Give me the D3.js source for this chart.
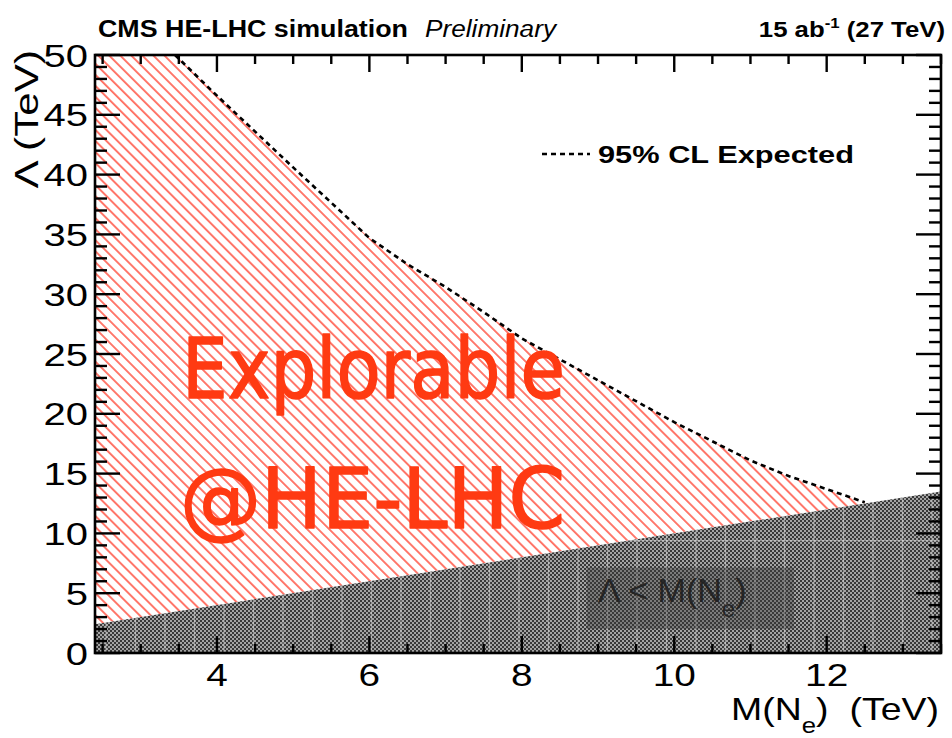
<!DOCTYPE html>
<html>
<head>
<meta charset="utf-8">
<script src="https://cdn.jsdelivr.net/npm/d3@7"></script>
<style>
  body { margin: 0; background: #fff; }
  svg { display: block; }
</style>
</head>
<body>
<svg id="chart" width="952" height="738"></svg>
<script>
// Expected 95% CL limit on the contact-interaction scale vs heavy neutrino mass
const massTeV   = [3.45, 4.0, 5.0, 6.0, 6.5, 7.0, 7.5, 8.0, 9.0, 10.0, 11.0, 11.5, 12.0, 12.5];
const lambdaTeV = [50.0, 46.6, 40.6, 34.7, 32.5, 30.6, 28.5, 26.3, 22.8, 19.3, 16.1, 14.8, 13.7, 12.6];

const xDomain = [2.4, 13.5];
const yDomain = [0, 50];
const xMajorTicks = [4, 6, 8, 10, 12];
const yMajorTicks = [0, 5, 10, 15, 20, 25, 30, 35, 40, 45, 50];

const headerLeft = "CMS HE-LHC simulation";
const headerTag = "Preliminary";
const legendLabel = "95% CL Expected";

const W = 952, H = 738;
const frame = { l: 95, r: 941, t: 55, b: 653 };

const x = d3.scaleLinear().domain(xDomain).range([frame.l, frame.r]);
const y = d3.scaleLinear().domain(yDomain).range([frame.b, frame.t]);

const svg = d3.select("#chart");
const FONT = "'Liberation Sans', Arial, Helvetica, sans-serif";
const WIDE = 1.25; // horizontal stretch of the axis lettering

const defs = svg.append("defs");

// red diagonal hatching
const hatch = defs.append("pattern")
  .attr("id", "hatch")
  .attr("patternUnits", "userSpaceOnUse")
  .attr("width", 10).attr("height", 7.8)
  .attr("patternTransform", "rotate(45)");
hatch.append("line")
  .attr("x1", 0).attr("x2", 10).attr("y1", 1).attr("y2", 1)
  .attr("stroke", "#ff1400").attr("stroke-width", 1.15);

// fine checker fill for the excluded Λ < M region
const checker = defs.append("pattern")
  .attr("id", "checker")
  .attr("patternUnits", "userSpaceOnUse")
  .attr("width", 4).attr("height", 4);
checker.append("rect").attr("width", 4).attr("height", 4).attr("fill", "#a4a4a4");
checker.append("rect").attr("x", 0).attr("y", 0).attr("width", 2).attr("height", 2).attr("fill", "#383838");
checker.append("rect").attr("x", 2).attr("y", 2).attr("width", 2).attr("height", 2).attr("fill", "#383838");

defs.append("clipPath").attr("id", "plotClip")
  .append("rect")
  .attr("x", frame.l).attr("y", frame.t)
  .attr("width", frame.r - frame.l).attr("height", frame.b - frame.t);

const plot = svg.append("g").attr("clip-path", "url(#plotClip)");
const line = d3.line().x(d => x(d[0])).y(d => y(d[1]));

// explorable region: between the expected limit and the Λ = M line
const curve = massTeV.map((m, i) => [m, lambdaTeV[i]]);
const last = curve[curve.length - 1];
const hatchPoly = [[xDomain[0], yDomain[1]], ...curve, [last[0], last[0]], [xDomain[0], xDomain[0]]];
plot.append("path").attr("d", line(hatchPoly) + "Z").attr("fill", "url(#hatch)");

// Λ < M region
const grayPoly = [[xDomain[0], 0], [xDomain[0], xDomain[0]], [xDomain[1], xDomain[1]], [xDomain[1], 0]];
const grayPath = line(grayPoly) + "Z";
defs.append("clipPath").attr("id", "grayClip").append("path").attr("d", grayPath);
plot.append("path").attr("d", grayPath).attr("fill", "url(#checker)");

// faint grid streaks in the checker fill
const streaks = plot.append("g").attr("clip-path", "url(#grayClip)")
  .attr("stroke", "#dcdcdc").attr("stroke-opacity", 0.5).attr("stroke-width", 1.3);
d3.range(frame.l + 11, frame.r, 29.5).forEach(px => {
  streaks.append("line").attr("x1", px).attr("x2", px).attr("y1", frame.t).attr("y2", frame.b);
});
streaks.append("line")
  .attr("x1", frame.l).attr("x2", frame.r)
  .attr("y1", y(9.4)).attr("y2", y(9.4));

// label box inside the Λ < M region
const boxG = plot.append("g");
boxG.append("rect")
  .attr("x", x(8.85)).attr("y", y(7.15))
  .attr("width", x(11.57) - x(8.85)).attr("height", y(2.0) - y(7.15))
  .attr("fill", "#3a3a3a").attr("fill-opacity", 0.38);
const boxText = boxG.append("text")
  .attr("x", x(9.0)).attr("y", y(4.3))
  .attr("font-family", FONT).attr("font-size", 34)
  .attr("fill", "#1e1e1e").attr("fill-opacity", 0.9);
boxText.append("tspan").text("Λ < M(N");
boxText.append("tspan").attr("dy", 15).attr("font-size", 24).text("e");
boxText.append("tspan").attr("dy", -15).text(")");

// expected limit curve
plot.append("path")
  .datum(curve)
  .attr("d", line)
  .attr("fill", "none")
  .attr("stroke", "#000")
  .attr("stroke-width", 2.6)
  .attr("stroke-dasharray", "5,4");

// handwritten-style annotation
const note = svg.append("g")
  .attr("font-family", "'DejaVu Sans', sans-serif")
  .attr("fill", "#ff3a12")
  .attr("stroke", "#ff3a12").attr("stroke-width", 1.6).attr("stroke-linejoin", "round");
note.append("text")
  .attr("x", 182).attr("y", 398)
  .attr("font-size", 84)
  .attr("textLength", 383).attr("lengthAdjust", "spacingAndGlyphs")
  .text("Explorable");
note.append("text")
  .attr("x", 180).attr("y", 528)
  .attr("font-size", 84)
  .attr("textLength", 385).attr("lengthAdjust", "spacingAndGlyphs")
  .text("@HE-LHC");

// frame and ticks
const axes = svg.append("g").attr("stroke", "#000").attr("stroke-width", 2.4);
d3.range(2.5, xDomain[1] + 1e-9, 0.5).forEach(v => {
  const len = xMajorTicks.includes(v) ? 17 : 9;
  axes.append("line").attr("x1", x(v)).attr("x2", x(v)).attr("y1", frame.b).attr("y2", frame.b - len);
  axes.append("line").attr("x1", x(v)).attr("x2", x(v)).attr("y1", frame.t).attr("y2", frame.t + len);
});
d3.range(0, yDomain[1] + 1e-9, 1).forEach(v => {
  const len = yMajorTicks.includes(v) ? 25 : 12;
  axes.append("line").attr("x1", frame.l).attr("x2", frame.l + len).attr("y1", y(v)).attr("y2", y(v));
  axes.append("line").attr("x1", frame.r).attr("x2", frame.r - len).attr("y1", y(v)).attr("y2", y(v));
});
svg.append("rect")
  .attr("x", frame.l).attr("y", frame.t)
  .attr("width", frame.r - frame.l).attr("height", frame.b - frame.t)
  .attr("fill", "none").attr("stroke", "#000").attr("stroke-width", 2.6);

// tick labels
svg.append("g").selectAll("text").data(xMajorTicks).join("text")
  .attr("transform", d => `translate(${x(d)},686) scale(${WIDE},1)`)
  .attr("text-anchor", "middle")
  .attr("font-family", FONT).attr("font-size", 31)
  .text(d => d);
svg.append("g").selectAll("text").data(yMajorTicks).join("text")
  .attr("transform", d => `translate(88,${y(d) + 11.5}) scale(${WIDE},1)`)
  .attr("text-anchor", "end")
  .attr("font-family", FONT).attr("font-size", 32)
  .text(d => d);

// axis titles
const xTitle = svg.append("text")
  .attr("transform", `translate(939,720) scale(1.17,1)`)
  .attr("text-anchor", "end")
  .attr("font-family", FONT).attr("font-size", 32);
xTitle.append("tspan").text("M(N");
xTitle.append("tspan").attr("dy", 13).attr("font-size", 22).text("e");
xTitle.append("tspan").attr("dy", -13).text(")");
xTitle.append("tspan").attr("dx", 18).text("(TeV)");

svg.append("text")
  .attr("transform", `translate(38,50) rotate(-90) scale(1.28,1)`)
  .attr("text-anchor", "end")
  .attr("font-family", FONT).attr("font-size", 33)
  .text("Λ (TeV)");

// legend
svg.append("line")
  .attr("x1", 542).attr("x2", 590).attr("y1", 154).attr("y2", 154)
  .attr("stroke", "#000").attr("stroke-width", 2.4).attr("stroke-dasharray", "5,4");
svg.append("text")
  .attr("x", 598).attr("y", 163)
  .attr("font-family", FONT).attr("font-size", 24).attr("font-weight", "bold")
  .attr("textLength", 256).attr("lengthAdjust", "spacingAndGlyphs")
  .text(legendLabel);

// header
svg.append("text")
  .attr("x", 98).attr("y", 37)
  .attr("font-family", FONT).attr("font-size", 23).attr("font-weight", "bold")
  .attr("textLength", 310).attr("lengthAdjust", "spacingAndGlyphs")
  .text(headerLeft);
svg.append("text")
  .attr("x", 425).attr("y", 37)
  .attr("font-family", FONT).attr("font-size", 23).attr("font-style", "italic")
  .attr("textLength", 131).attr("lengthAdjust", "spacingAndGlyphs")
  .text(headerTag);
const lumi = svg.append("text")
  .attr("transform", "translate(945,37) scale(1.12,1)")
  .attr("text-anchor", "end")
  .attr("font-family", FONT).attr("font-size", 23).attr("font-weight", "bold");
lumi.append("tspan").text("15 ab");
lumi.append("tspan").attr("dy", -9).attr("font-size", 15).text("-1");
lumi.append("tspan").attr("dy", 9).text(" (27 TeV)");
</script>
</body>
</html>
